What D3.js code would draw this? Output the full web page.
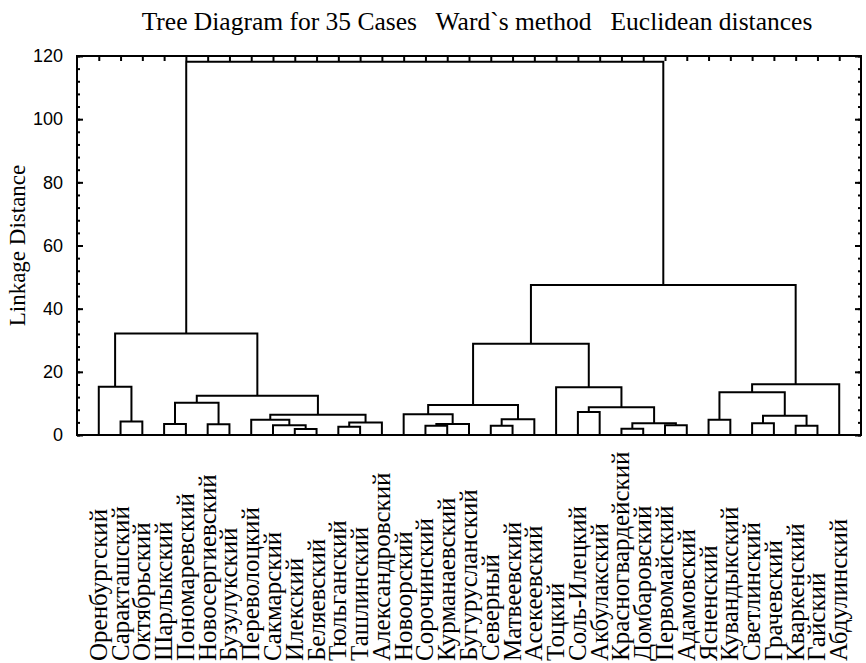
<!DOCTYPE html>
<html>
<head>
<meta charset="utf-8">
<script src="https://cdn.jsdelivr.net/npm/d3@7"></script>
<style>
  body { margin: 0; background: #fff; }
  text { white-space: pre; }
</style>
</head>
<body>
<div id="chart"></div>
<script>
// cases in the order they appear along the bottom
const cases = [
  "Оренбургский", "Саракташский", "Октябрьский", "Шарлыкский", "Пономаревский",
  "Новосергиевский", "Бузулукский", "Переволоцкий", "Сакмарский", "Илекский",
  "Беляевский", "Тюльганский", "Ташлинский", "Александровский", "Новоорский",
  "Сорочинский", "Курманаевский", "Бугурусланский", "Северный", "Матвеевский",
  "Асекеевский", "Тоцкий", "Соль-Илецкий", "Акбулакский", "Красногвардейский",
  "Домбаровский", "Первомайский", "Адамовский", "Ясненский", "Кувандыкский",
  "Светлинский", "Грачевский", "Кваркенский", "Гайский", "Абдулинский"
];

// joins: [left, right, linkage distance]; ids 0..34 are cases, 35 + k is join k
const merges = [
  [1, 2, 4.3],     // 35
  [0, 35, 15.3],   // 36
  [3, 4, 3.5],     // 37
  [5, 6, 3.4],     // 38
  [37, 38, 10.2],  // 39
  [9, 10, 1.9],    // 40
  [8, 40, 3.1],    // 41
  [7, 41, 4.8],    // 42
  [11, 12, 2.6],   // 43
  [43, 13, 3.95],  // 44
  [42, 44, 6.4],   // 45
  [39, 45, 12.4],  // 46
  [36, 46, 32.1],  // 47
  [15, 16, 2.95],  // 48
  [48, 17, 3.5],   // 49
  [14, 49, 6.6],   // 50
  [18, 19, 2.9],   // 51
  [51, 20, 5.0],   // 52
  [50, 52, 9.5],   // 53
  [22, 23, 7.3],   // 54
  [24, 25, 2.0],   // 55
  [26, 27, 3.1],   // 56
  [55, 56, 3.7],   // 57
  [54, 57, 8.8],   // 58
  [21, 58, 15.1],  // 59
  [53, 59, 28.9],  // 60
  [28, 29, 4.8],   // 61
  [30, 31, 3.7],   // 62
  [32, 33, 2.9],   // 63
  [62, 63, 6.1],   // 64
  [61, 64, 13.5],  // 65
  [65, 34, 16.1],  // 66
  [60, 66, 47.5],  // 67
  [47, 67, 118.2]  // 68
];

const yTicks = [0, 20, 40, 60, 80, 100, 120];
const yMinorTicks = d3.range(0, 121, 4);

const title = "Tree Diagram for 35 Cases   Ward`s method   Euclidean distances";
const yLabel = "Linkage Distance";

const serif = "'Liberation Serif', 'Times New Roman', serif";

const W = 866, H = 663;
const margin = { top: 56, right: 5, bottom: 228, left: 77 };
const innerW = W - margin.left - margin.right;
const innerH = H - margin.top - margin.bottom;

const svg = d3.select("#chart")
  .append("svg")
  .attr("width", W)
  .attr("height", H);

const x = d3.scaleLinear().domain([0, cases.length + 1]).range([0, innerW]);
const y = d3.scaleLinear().domain([0, 120]).range([innerH, 0]);

// node positions: x in case units, h = linkage distance
const pos = cases.map((c, i) => ({ x: i + 1, h: 0 }));
merges.forEach(([a, b, h]) => {
  pos.push({ x: (pos[a].x + pos[b].x) / 2, h: h });
});

const g = svg.append("g")
  .attr("transform", `translate(${margin.left},${margin.top})`);

// tree links
g.append("g")
  .selectAll("path")
  .data(merges)
  .join("path")
  .attr("fill", "none")
  .attr("stroke", "#000")
  .attr("stroke-width", 2)
  .attr("d", ([a, b, h]) =>
    `M${x(pos[a].x)},${y(pos[a].h)}V${y(h)}H${x(pos[b].x)}V${y(pos[b].h)}`);

// axes
function styleAxis(sel) {
  sel.select(".domain").remove();
  sel.selectAll(".tick line").attr("stroke", "#000").attr("stroke-width", 2);
}

g.append("g")
  .call(d3.axisLeft(y).tickValues(yMinorTicks).tickSize(-3).tickFormat(""))
  .call(styleAxis);
g.append("g")
  .call(d3.axisLeft(y).tickValues(yTicks).tickSize(-6).tickPadding(14))
  .call(styleAxis)
  .selectAll("text")
  .attr("font-family", "'Liberation Sans', Arial, sans-serif")
  .attr("font-size", "18px")
  .attr("fill", "#000");

g.append("g")
  .attr("transform", `translate(${innerW},0)`)
  .call(d3.axisRight(y).tickValues(yMinorTicks).tickSize(-3).tickFormat(""))
  .call(styleAxis);
g.append("g")
  .attr("transform", `translate(${innerW},0)`)
  .call(d3.axisRight(y).tickValues(yTicks).tickSize(-6).tickFormat(""))
  .call(styleAxis);

g.append("g")
  .call(d3.axisTop(x).tickValues(d3.range(1, cases.length + 1)).tickSize(-5).tickFormat(""))
  .call(styleAxis);

// frame
g.append("rect")
  .attr("width", innerW)
  .attr("height", innerH)
  .attr("fill", "none")
  .attr("stroke", "#000")
  .attr("stroke-width", 2);

// case labels
g.append("g")
  .selectAll("text")
  .data(cases)
  .join("text")
  .attr("transform", (d, i) => `translate(${x(i + 1) + 8},${H - margin.top - 2}) rotate(-90)`)
  .attr("font-family", serif)
  .attr("font-size", "25px")
  .text(d => d);

// title and axis label
svg.append("text")
  .attr("x", 477)
  .attr("y", 30)
  .attr("text-anchor", "middle")
  .attr("font-family", serif)
  .attr("font-size", "25.5px")
  .text(title);

svg.append("text")
  .attr("transform", `translate(25,${margin.top + innerH / 2}) rotate(-90)`)
  .attr("text-anchor", "middle")
  .attr("font-family", serif)
  .attr("font-size", "23px")
  .text(yLabel);
</script>
</body>
</html>
